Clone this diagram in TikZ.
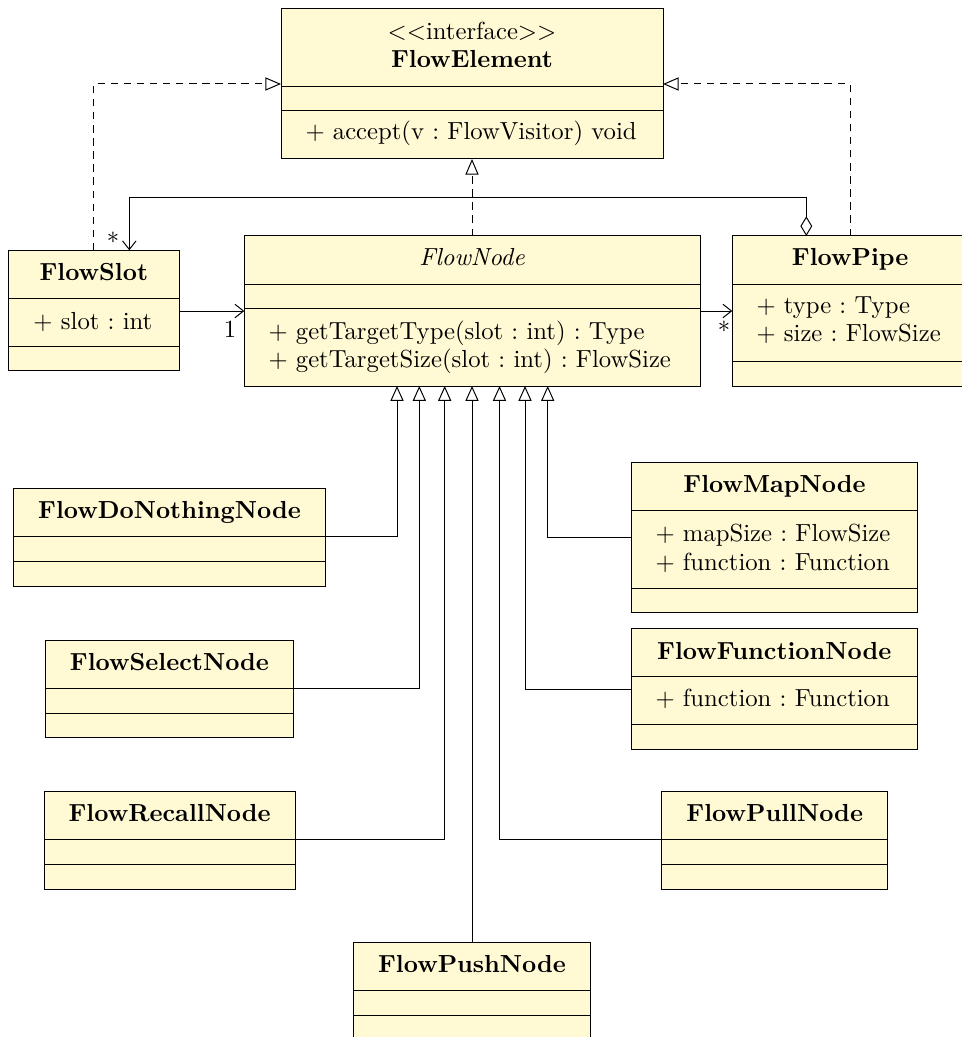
\documentclass[tikz,border=0pt]{standalone}
\usetikzlibrary{arrows.meta}
\definecolor{classfill}{RGB}{255,249,212}
\def\pxu{0.405pt}
% class box: name, x1, y1, x2, y2, first divider, second divider
\newcommand\umlclassbox[7]{%
  \node[classbox, minimum width={(#4-#2)*\pxu}, minimum height={(#5-#3)*\pxu}] (#1) at (#2,#3) {};
  \draw (#1.west |- 0,#6) -- (#1.east |- 0,#6);
  \draw (#1.west |- 0,#7) -- (#1.east |- 0,#7);
}
\begin{document}
\begin{tikzpicture}[x=\pxu,y=-\pxu,
  classbox/.style={draw, fill=classfill, inner sep=0pt, outer sep=0pt, anchor=north west},
  ctitle/.style={anchor=base, inner sep=0pt},
  member/.style={anchor=base west, inner sep=0pt},
  mult/.style={inner sep=0pt},
  inherit/.style={-{Triangle[open,length=6pt,width=5.3pt]}},
  realize/.style={dash pattern=on 3pt off 2.3pt, -{Triangle[open,length=6.3pt,width=5.3pt]}},
  assoc/.style={-{Straight Barb[length=3.5pt,width=5.5pt]}},
  aggreg/.style={{Diamond[open,length=8pt,width=4.8pt]}-{Straight Barb[length=3.5pt,width=5.5pt]}}]
\useasboundingbox (0,0) rectangle (961,1037);

% interface
\umlclassbox{elem}{281}{9}{663}{159}{86.3}{111}
\node[ctitle] at (elem.north |- 0,40) {$<<$interface$>>$};
\node[ctitle] at (elem.north |- 0,68) {\textbf{FlowElement}};
\node[member] at (305,140) {$+$ accept(v $:$ FlowVisitor) void};

% abstract node
\umlclassbox{fnode}{244.3}{236}{700}{386}{284.3}{308.3}
\node[ctitle] at (fnode.north |- 0,266) {\textit{FlowNode}};
\node[member] at (268,339.5) {$+$ getTargetType(slot $:$ int) $:$ Type};
\node[member] at (268,368) {$+$ getTargetSize(slot $:$ int) $:$ FlowSize};

% slot
\umlclassbox{slot}{8.3}{250.3}{179.3}{370.7}{298.3}{346.3}
\node[ctitle] at (slot.north |- 0,280.3) {\textbf{FlowSlot}};
\node[member] at (33,329.5) {$+$ slot $:$ int};

% pipe
\umlclassbox{pipe}{732.3}{236}{968}{386}{284}{361}
\node[ctitle] at (pipe.north |- 0,265.5) {\textbf{FlowPipe}};
\node[member] at (756,313.5) {$+$ type $:$ Type};
\node[member] at (756,342) {$+$ size $:$ FlowSize};

% subclasses
\umlclassbox{nothing}{13.7}{488.7}{325.3}{586.3}{536.7}{561.7}
\node[ctitle] at (nothing.north |- 0,518.5) {\textbf{FlowDoNothingNode}};

\umlclassbox{select}{45.3}{640.3}{293.7}{737.7}{688.7}{713}
\node[ctitle] at (select.north |- 0,670) {\textbf{FlowSelectNode}};

\umlclassbox{recall}{44}{791.7}{295.3}{889}{839.7}{864.3}
\node[ctitle] at (recall.north |- 0,821.7) {\textbf{FlowRecallNode}};

\umlclassbox{push}{353.7}{942.3}{590.3}{1040}{990.3}{1015.3}
\node[ctitle] at (push.north |- 0,972.3) {\textbf{FlowPushNode}};

\umlclassbox{pull}{661.7}{791.7}{887.7}{889}{839.7}{864.3}
\node[ctitle] at (pull.north |- 0,821.7) {\textbf{FlowPullNode}};

\umlclassbox{map}{631.3}{462.7}{917.7}{612.3}{510.7}{588}
\node[ctitle] at (map.north |- 0,493) {\textbf{FlowMapNode}};
\node[member] at (655,541.5) {$+$ mapSize $:$ FlowSize};
\node[member] at (655,570) {$+$ function $:$ Function};

\umlclassbox{func}{631.3}{628.3}{917.3}{749}{676.3}{724.3}
\node[ctitle] at (func.north |- 0,659) {\textbf{FlowFunctionNode}};
\node[member] at (655,706.5) {$+$ function $:$ Function};

% realizations of the interface
\draw[realize] (fnode.north -| 472,0) -- (elem.south -| 472,0);
\draw[realize] (slot.north -| 93.7,0) |- (elem.west |- 0,84);
\draw[realize] (pipe.north -| 850,0) |- (elem.east |- 0,84);

% associations
\draw[assoc] (slot.east |- 0,311) -- (fnode.west |- 0,311);
\node[mult] at (230,329) {1};
\draw[assoc] (fnode.east |- 0,311) -- (pipe.west |- 0,311);
\node[mult] at (724,327) {$*$};
\draw[aggreg] (pipe.north -| 806.3,0) |- (129.3,197.7) -- (slot.north -| 129.3,0);
\node[mult] at (113,238) {$*$};

% generalizations
\draw[inherit] (nothing.east |- 0,536.7) -| (fnode.south -| 397,0);
\draw[inherit] (select.east |- 0,688.7) -| (fnode.south -| 419.3,0);
\draw[inherit] (recall.east |- 0,839.7) -| (fnode.south -| 444.7,0);
\draw[inherit] (push.north -| 472,0) -- (fnode.south -| 472,0);
\draw[inherit] (pull.west |- 0,839.7) -| (fnode.south -| 499.5,0);
\draw[inherit] (func.west |- 0,689) -| (fnode.south -| 525,0);
\draw[inherit] (map.west |- 0,537.7) -| (fnode.south -| 547.7,0);
\end{tikzpicture}
\end{document}
